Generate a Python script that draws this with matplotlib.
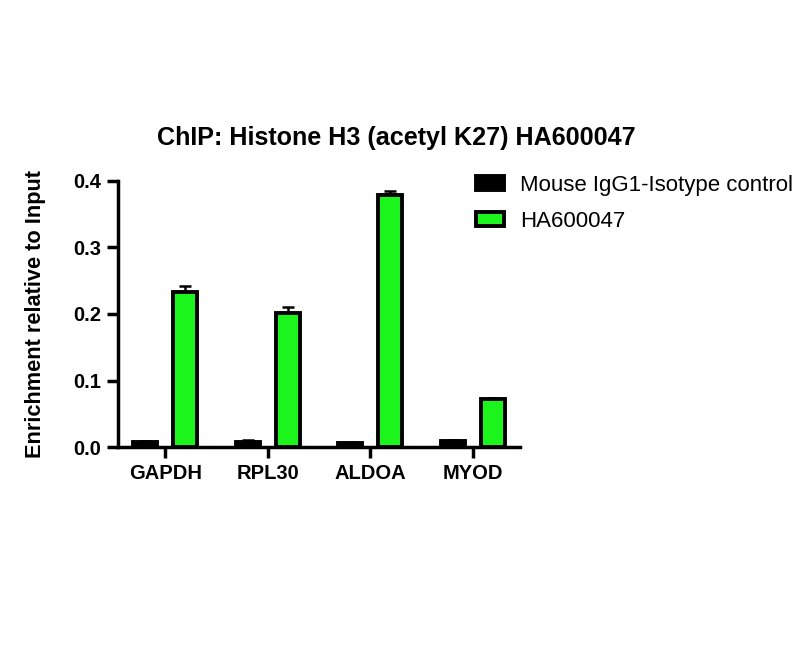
import matplotlib
matplotlib.use("Agg")
import matplotlib.pyplot as plt
import numpy as np

plt.rcParams['font.family'] = ['Liberation Sans', 'DejaVu Sans']

categories = ["GAPDH", "RPL30", "ALDOA", "MYOD"]
series_names = ["Mouse IgG1-Isotype control", "HA600047"]
igg_values = [0.0075, 0.008, 0.006, 0.009]
igg_err = [0.001, 0.002, 0.001, 0.001]
ha_values = [0.2325, 0.201, 0.379, 0.0725]
ha_err = [0.010, 0.009, 0.0065, 0.0012]

fig = plt.figure(figsize=(8.12, 6.49), dpi=100)
ax = fig.add_axes([0.1453, 0.3112, 0.495, 0.41])

x = np.arange(len(categories))
w = 0.235
off = 0.195
colors = ["#000000", "#1cf51c"]
for vals, errs, o, c, name in [(igg_values, igg_err, -off, colors[0], series_names[0]),
                               (ha_values, ha_err, off, colors[1], series_names[1])]:
    ax.bar(x + o, vals, width=w, color=c, edgecolor="black", linewidth=2.8,
           label=name, zorder=2)
    ax.errorbar(x + o, vals, yerr=[np.zeros(len(vals)), errs], fmt="none",
                ecolor="black", elinewidth=1.8, capsize=4.5, capthick=1.8, zorder=1)

ax.set_xlim(-0.46, 3.46)
ax.set_ylim(0, 0.4)
ax.set_yticks([0.0, 0.1, 0.2, 0.3, 0.4])
ax.set_yticklabels(["0.0", "0.1", "0.2", "0.3", "0.4"])
ax.set_xticks(x)
ax.set_xticklabels(categories)
for s in ["top", "right"]:
    ax.spines[s].set_visible(False)
for s in ["left", "bottom"]:
    ax.spines[s].set_linewidth(2.5)
ax.tick_params(axis="both", width=2.5, length=8, labelsize=14.5, pad=4)
for lab in ax.get_xticklabels() + ax.get_yticklabels():
    lab.set_fontweight("bold")

ax.set_ylabel("Enrichment relative to Input", fontsize=15.7, fontweight="bold", labelpad=20)
fig.text(396 / 812, 1 - 138 / 649, "ChIP: Histone H3 (acetyl K27) HA600047",
         fontsize=18.1, fontweight="bold", ha="center", va="center")

leg = ax.legend(loc="upper left", bbox_to_anchor=(0.841, 1.099), frameon=False,
                fontsize=16, handlelength=1.28, handleheight=0.6, handletextpad=0.72,
                labelspacing=0.68)

fig.savefig("out.png", dpi=100)
